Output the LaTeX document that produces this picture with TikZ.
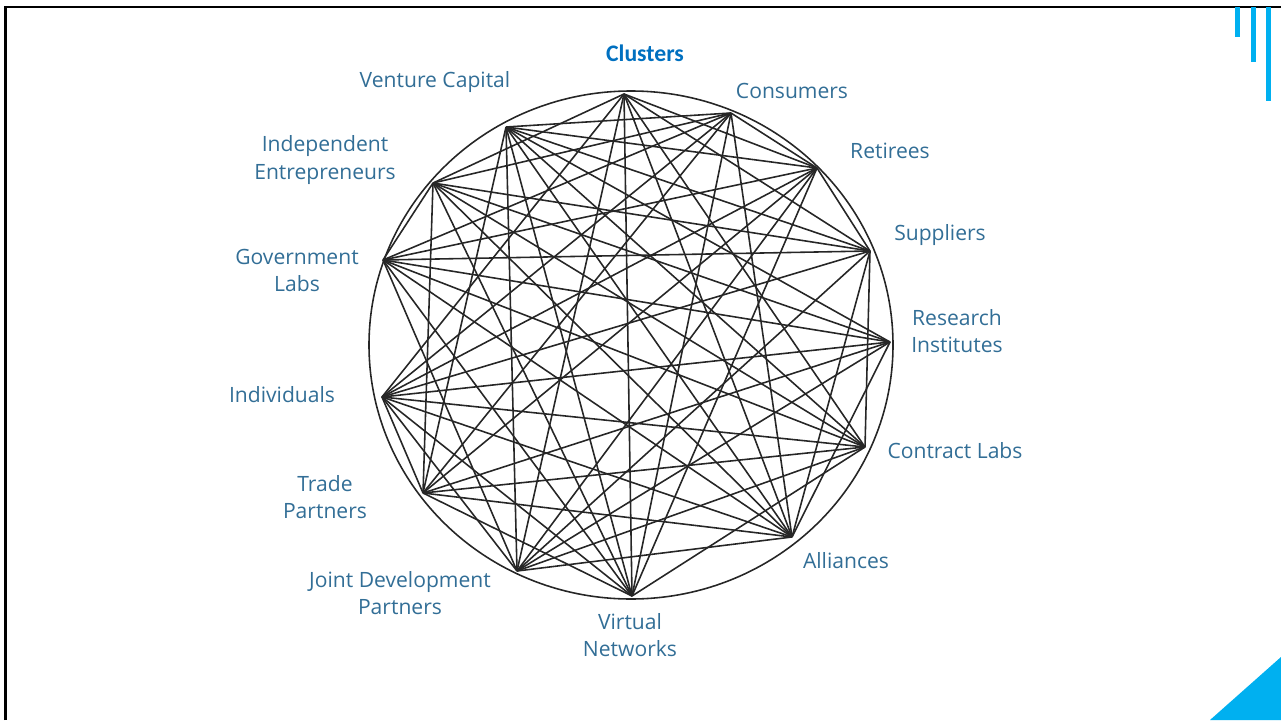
\documentclass[tikz,border=0pt]{standalone}
\usepackage{fontspec}
\setmainfont{Open Sans}
\newfontfamily\titlefont{Carlito}
\definecolor{labelblue}{RGB}{50,110,150}
\definecolor{titleblue}{RGB}{0,112,192}
\definecolor{accentblue}{RGB}{0,176,240}

\begin{document}
\begin{tikzpicture}[x=0.02cm, y=-0.02cm,
    chord/.style={draw=black!85, line width=.9pt},
    lbl/.style={text=labelblue, font=\fontsize{12}{15.4}\selectfont, align=center, inner sep=0pt}]
  \useasboundingbox (0,0) rectangle (1281,720);
  % slide frame and accents
  \draw[line width=1.3pt] (5.5,720) -- (5.5,7) -- (1281,7);
  \fill[accentblue] (1234.5,7) rectangle (1239.5,37);
  \fill[accentblue] (1250.5,7) rectangle (1255.5,62);
  \fill[accentblue] (1265.5,7) rectangle (1270.5,101);
  \fill[accentblue] (1210,720) -- (1281,657) -- (1281,720) -- cycle;

  \node[font=\titlefont\bfseries\fontsize{13.5}{15}\selectfont, text=titleblue] (title) at (645,53) {Clusters};

  % points on the ring
  \coordinate (top) at (624,94);
  \coordinate (vc) at (506,127);
  \coordinate (co) at (731,113);
  \coordinate (re) at (817,168);
  \coordinate (su) at (870,251);
  \coordinate (ri) at (890,342);
  \coordinate (cl) at (865,447);
  \coordinate (al) at (792,537);
  \coordinate (vn) at (632,596);
  \coordinate (jd) at (517,571);
  \coordinate (tp) at (423,493);
  \coordinate (in) at (382,397);
  \coordinate (gl) at (383,260);
  \coordinate (ie) at (433,183);

  \draw[chord] (631,345) ellipse (262 and 254);

  \foreach \a/\b in {top/vn,top/ie,top/in,top/re,top/su,top/cl,top/al,top/jd,
      vc/co,vc/re,vc/jd,vc/su,vc/ri,vc/cl,vc/al,vc/vn,vc/tp,
      co/ie,co/gl,co/in,co/tp,co/vn,co/al,co/re,
      re/gl,re/in,re/tp,re/jd,re/vn,re/su,
      su/gl,su/ie,su/in,su/jd,su/al,su/cl,
      ri/ie,ri/gl,ri/in,ri/tp,ri/jd,ri/al,
      cl/ie,cl/gl,cl/tp,cl/jd,cl/vn,cl/in,
      al/gl,al/in,al/tp,al/jd,al/ie,
      vn/in,vn/tp,vn/gl,vn/ie,
      jd/in,jd/gl,tp/ie,tp/in,gl/ie}
    \draw[chord] (\a) -- (\b);

  % labels
  \node[lbl] (lvc) at (435,82) {Venture Capital};
  \node[lbl] (lco) at (792,91) {Consumers};
  \node[lbl] (lre) at (890,151) {Retirees};
  \node[lbl] (lsu) at (940,235) {Suppliers};
  \node[lbl] (lri) at (957,331) {Research\\Institutes};
  \node[lbl] (lcl) at (955,451) {Contract Labs};
  \node[lbl] (lal) at (846,561) {Alliances};
  \node[lbl] (lvn) at (630,635) {Virtual\\Networks};
  \node[lbl] (ljd) at (400,593) {Joint Development\\Partners};
  \node[lbl] (ltp) at (325,497) {Trade\\Partners};
  \node[lbl] (lin) at (282,395) {Individuals};
  \node[lbl] (lgl) at (297,270) {Government\\Labs};
  \node[lbl] (lie) at (325,160) {Independent\\Entrepreneurs};
\end{tikzpicture}
\end{document}
